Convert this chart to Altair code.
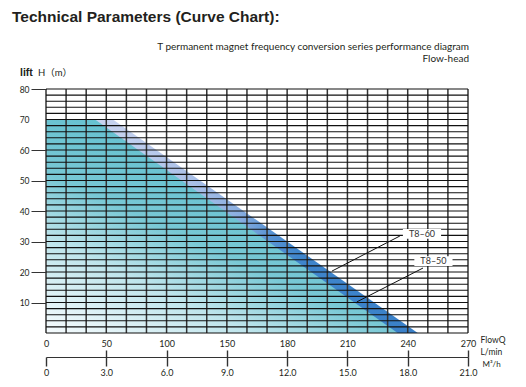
import altair as alt
import pandas as pd

# ---- data ----
# performance curves (flow in m3/h, head in m)
q_t860 = [0, 3.33, 18.5]
h_t860 = [70, 70, 0]
q_t850 = [0, 2.44, 17.5]
h_t850 = [70, 70, 0]

# grid
grid_q = list(range(0, 22))          # every 1 m3/h
grid_h = list(range(0, 82, 2))       # every 2 m

# axis ticks / labels
y_ticks = [10, 20, 30, 40, 50, 60, 70, 80]
x_ticks = [0, 3, 6, 9, 12, 15, 18, 21]
lmin_labels = ["0", "50", "100", "150", "180", "210", "240", "270"]
m3h_labels = ["0", "3.0", "6.0", "9.0", "12.0", "15.0", "18.0", "21.0"]

# series annotations
series_names = ["T8\u201360", "T8\u201350"]
label_q = [18.71, 19.28]
label_h = [32.5, 23.6]
line_start_q = [17.61, 18.76]
line_start_h = [31.8, 21.3]
line_tip_q = [14.23, 15.47]
line_tip_h = [20.3, 10.2]

title_text = "Technical Parameters (Curve Chart):"
subtitle_lines = "T permanent magnet frequency conversion series performance diagram\nFlow-head"

# ---- chart ----
W, H = 422, 244
xs = alt.Scale(domain=[0, 21], nice=False, zero=False)
ys = alt.Scale(domain=[0, 80], nice=False, zero=False)

LBL_FONT = "Lato"

df60 = pd.DataFrame({"q": q_t860, "h": h_t860})
df50 = pd.DataFrame({"q": q_t850, "h": h_t850})

blue_grad = alt.Gradient(
    gradient="linear", x1=0, y1=0, x2=1, y2=0,
    stops=[
        alt.GradientStop(offset=0, color="#cdd7f1"),
        alt.GradientStop(offset=0.2, color="#c4d1ef"),
        alt.GradientStop(offset=0.4, color="#a9bfe7"),
        alt.GradientStop(offset=0.52, color="#8aaee0"),
        alt.GradientStop(offset=0.6, color="#5a94d4"),
        alt.GradientStop(offset=0.68, color="#3f85cc"),
        alt.GradientStop(offset=1, color="#3a80c8"),
    ],
)
teal_grad = alt.Gradient(
    gradient="linear", x1=0, y1=1, x2=0.6, y2=0.2,
    stops=[
        alt.GradientStop(offset=0, color="#f6fbfd"),
        alt.GradientStop(offset=0.35, color="#bfe5ec"),
        alt.GradientStop(offset=0.6, color="#78c8d5"),
        alt.GradientStop(offset=1, color="#5fbfcf"),
    ],
)

y_axis = alt.Axis(
    orient="left", values=y_ticks, grid=False, domain=False,
    ticks=True, tickSize=15, tickColor="#333333", tickWidth=1,
    tickOpacity={"condition": {"test": "datum.value == 70", "value": 0}, "value": 1},
    labelPadding=2, labelFont=LBL_FONT, labelFontSize=8.5,
    labelColor="#231f20", title=None,
)

area60 = alt.Chart(df60).mark_area(color=blue_grad, interpolate="linear").encode(
    x=alt.X("q:Q", scale=xs, axis=None),
    y=alt.Y("h:Q", scale=ys, axis=y_axis),
)
area50 = alt.Chart(df50).mark_area(color=teal_grad, interpolate="linear").encode(
    x=alt.X("q:Q", scale=xs, axis=None),
    y=alt.Y("h:Q", scale=ys, axis=None),
)

m3h_expr = "[" + ",".join("'%s'" % s for s in m3h_labels) + "][round(datum.value/3)]"
lmin_expr = "[" + ",".join("'%s'" % s for s in lmin_labels) + "][round(datum.value/3)]"

# vertical grid lines (x only -> full plot height)
vgrid = alt.Chart(pd.DataFrame({"q": grid_q})).mark_rule(
    color="#333333", strokeWidth=1.5
).encode(
    x=alt.X(
        "q:Q", scale=xs,
        axis=alt.Axis(
            orient="bottom", offset=24, values=x_ticks, grid=False,
            domain=True, domainColor="#333333", domainWidth=1.2,
            ticks=True, tickSize=9, tickColor="#333333", tickWidth=1.4,
            labelExpr=m3h_expr, labelPadding=2, labelFlush=False, labelOverlap=False,
            labelFont=LBL_FONT, labelFontSize=9, labelColor="#231f20",
            title="M\u00b3/h", titleX=436, titleY=7, titleAlign="left",
            titleBaseline="middle", titleAngle=0, titleFont=LBL_FONT,
            titleFontSize=8, titleFontWeight="normal", titleColor="#231f20",
        ),
    ),
)

# horizontal grid lines (y only -> full plot width)
hgrid = alt.Chart(pd.DataFrame({"h": grid_h})).mark_rule(
    color="#111111", strokeWidth=1.1
).encode(
    y=alt.Y("h:Q", scale=ys, axis=None),
)

ann = pd.DataFrame({
    "name": series_names,
    "lq": label_q, "lh": label_h,
    "sq": line_start_q, "sh": line_start_h,
    "tq": line_tip_q, "th": line_tip_h,
})
ann["bx0"] = ann["lq"] - 0.95
ann["bx1"] = ann["lq"] + 0.95
ann["by0"] = ann["lh"] - 1.6
ann["by1"] = ann["lh"] + 1.6

leaders = alt.Chart(ann).mark_rule(color="#111111", strokeWidth=1).encode(
    x=alt.X(
        "sq:Q", scale=xs,
        axis=alt.Axis(
            orient="bottom", offset=17, values=x_ticks, grid=False,
            domain=False, ticks=True, tickSize=7, tickColor="#333333", tickWidth=1.4,
            tickOpacity={"condition": {"test": "datum.value == 0", "value": 0}, "value": 1},
            labelExpr=lmin_expr, labelPadding=-9, labelBaseline="bottom",
            labelFlush=False, labelOverlap=False,
            labelFont=LBL_FONT, labelFontSize=9, labelColor="#231f20",
            title=["FlowQ", "L/min"], titleX=434, titleY=-15, titleAlign="left",
            titleBaseline="top", titleAngle=0, titleLineHeight=12,
            titleFont=LBL_FONT, titleFontSize=8.5, titleFontWeight="normal",
            titleColor="#231f20",
        ),
    ),
    y=alt.Y("sh:Q", scale=ys, axis=None),
    x2="tq:Q",
    y2="th:Q",
)

boxes = alt.Chart(ann).mark_rect(fill="white", stroke=None).encode(
    x=alt.X("bx0:Q", scale=xs, axis=None),
    x2="bx1:Q",
    y=alt.Y("by0:Q", scale=ys, axis=None),
    y2="by1:Q",
)

labels = alt.Chart(ann).mark_text(
    font=LBL_FONT, fontSize=9, color="#333333", baseline="middle", align="center"
).encode(
    x=alt.X("lq:Q", scale=xs, axis=None),
    y=alt.Y("lh:Q", scale=ys, axis=None),
    text="name:N",
)

title_mark = alt.Chart(pd.DataFrame({"t": [title_text]})).mark_text(
    font="Liberation Sans", fontSize=15.5, fontWeight="bold", color="#231f20",
    align="left", baseline="alphabetic",
).encode(x=alt.value(-34), y=alt.value(-67), text="t:N")

subtitle = alt.Chart(pd.DataFrame({"t": [subtitle_lines]})).mark_text(
    font=LBL_FONT, fontSize=10, color="#231f20", align="right",
    baseline="top", lineBreak="\n", lineHeight=12,
).encode(x=alt.value(423), y=alt.value(-47), text="t:N")

lift1 = alt.Chart(pd.DataFrame({"t": ["lift"]})).mark_text(
    font="Liberation Sans", fontSize=10.5, fontWeight="bold", color="#231f20",
    align="left", baseline="middle",
).encode(x=alt.value(-26), y=alt.value(-16), text="t:N")

lift2 = alt.Chart(pd.DataFrame({"t": ["H\uff08m\uff09"]})).mark_text(
    font="Lato, 'Noto Sans CJK SC'", fontSize=9.5, color="#231f20",
    align="left", baseline="middle",
).encode(x=alt.value(-8), y=alt.value(-16), text="t:N")

chart = alt.layer(
    area60, area50, vgrid, hgrid, leaders, boxes, labels,
    title_mark, subtitle, lift1, lift2
).resolve_axis(x="independent", y="independent").properties(
    width=W, height=H,
    autosize=alt.AutoSizeParams(type="none"),
    padding={"left": 38, "top": 81, "right": 50, "bottom": 52},
).configure_view(stroke=None)

chart.save("out.html", embed_options={"renderer": "svg", "actions": False})
